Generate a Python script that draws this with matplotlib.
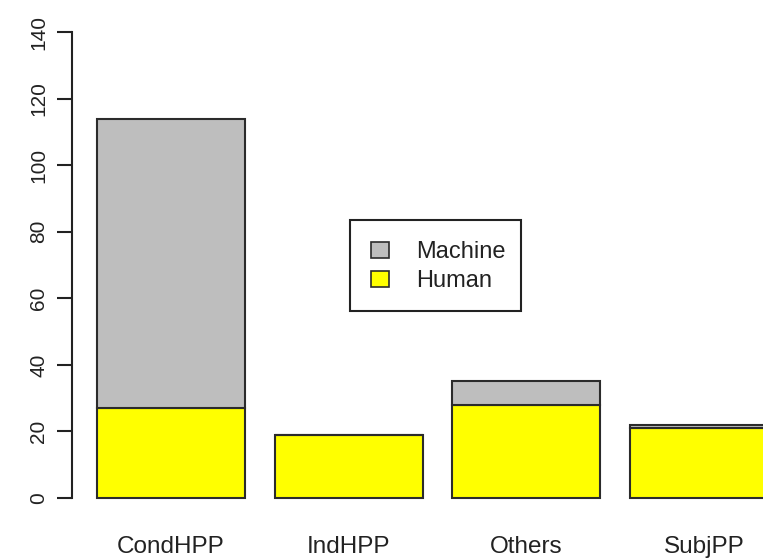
import matplotlib
matplotlib.use("Agg")
import matplotlib.pyplot as plt
from matplotlib.patches import Patch, Rectangle

categories = ["CondHPP", "IndHPP", "Others", "SubjPP"]
human = [27, 19, 28, 21]
machine = [87, 0, 7, 1]
yticks = [0, 20, 40, 60, 80, 100, 120, 140]

plt.rcParams['font.family'] = ['Liberation Sans', 'DejaVu Sans']

W, H = 763, 559
fig = plt.figure(figsize=(W / 100, H / 100), dpi=100)

# axes geometry in pixels
left_px, right_px = 72, 763
y0_px, y140_px = 498, 32
ppu = (y0_px - y140_px) / 140.0
ylo, yhi = -4, 144
bot_px = y0_px + (0 - ylo) * ppu
top_px = y140_px - (yhi - 140) * ppu
ax = fig.add_axes([left_px / W, (H - bot_px) / H, (right_px - left_px) / W, (bot_px - top_px) / H])

width = 1.0
space = 0.2
xs = [space + i * (width + space) + width / 2 for i in range(len(categories))]
edge = '#2b2b2b'
ax.bar(xs, human, width=width, color='#FFFF00', edgecolor=edge, linewidth=1.5, label='Human')
ax.bar(xs, machine, width=width, bottom=human, color='#BEBEBE', edgecolor=edge, linewidth=1.5, label='Machine')

ppx = 148.0
xl = 0.2 - (97 - left_px) / ppx
ax.set_xlim(xl, xl + (right_px - left_px) / ppx)
ax.set_ylim(ylo, yhi)

for s in ['top', 'right', 'bottom']:
    ax.spines[s].set_visible(False)
ax.spines['left'].set_bounds(0, 140)
ax.spines['left'].set_linewidth(1.5)
ax.spines['left'].set_color('#222222')

ax.set_yticks(yticks)
ax.set_yticklabels([str(v) for v in yticks], rotation=90, va='center', fontsize=15, color='#222222')
ax.tick_params(axis='y', length=11, width=1.5, pad=6, color='#222222')

ax.set_xticks(xs)
ax.set_xticklabels(categories, fontsize=17.5, color='#222222')
ax.tick_params(axis='x', length=0, pad=18)

handles = [Patch(facecolor='#BEBEBE', edgecolor=edge, linewidth=1.2, label='Machine'),
           Patch(facecolor='#FFFF00', edgecolor=edge, linewidth=1.2, label='Human')]
leg = ax.legend(handles=handles, loc='upper left',
                bbox_to_anchor=(350 / W, (H - 220) / H),
                bbox_transform=fig.transFigure, borderaxespad=0,
                frameon=False, fontsize=17,
                handlelength=0.76, handleheight=0.72, handletextpad=1.15,
                borderpad=0.9, labelspacing=0.3)
for t in leg.get_texts():
    t.set_color('#222222')

fig.add_artist(Rectangle((350 / W, (H - 311) / H), 171 / W, 91 / H,
                         transform=fig.transFigure, fill=False,
                         edgecolor='#222222', linewidth=1.5))

fig.savefig('out.png', dpi=100)
